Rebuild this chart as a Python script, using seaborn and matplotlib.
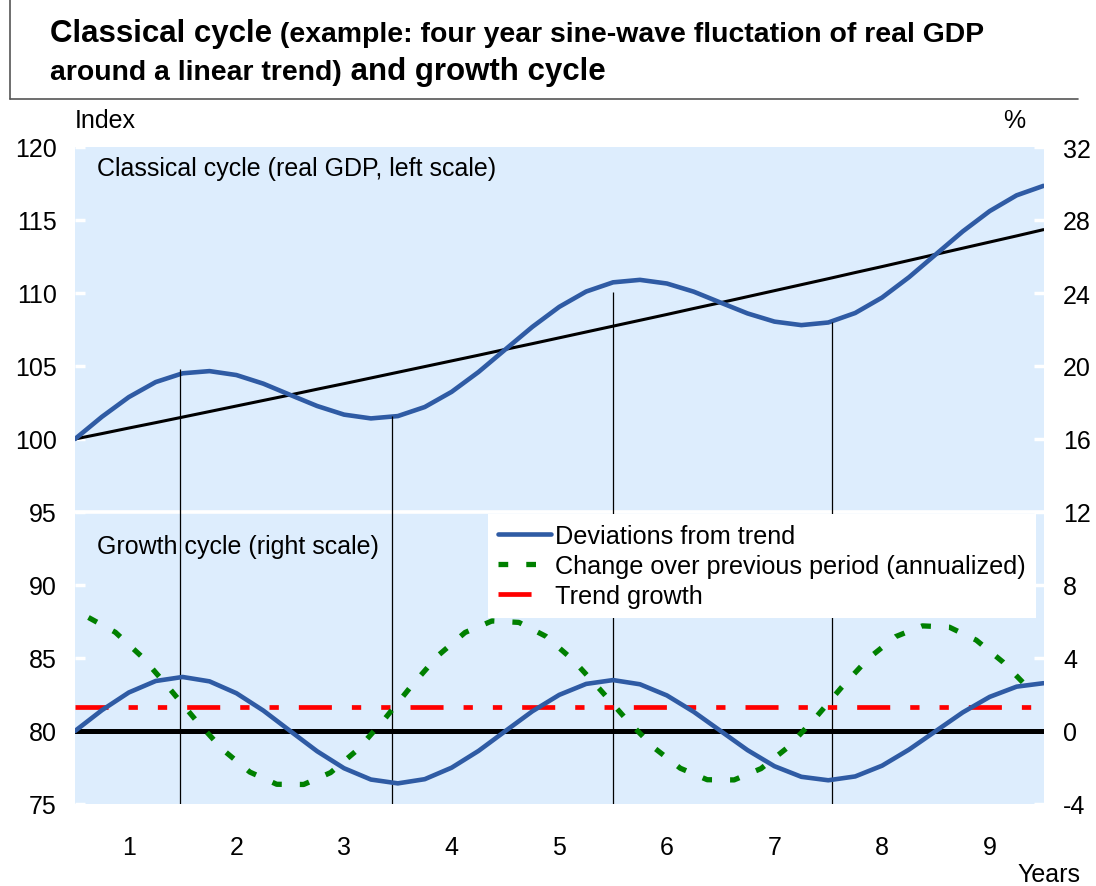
import matplotlib

matplotlib.use("Agg")

import matplotlib.pyplot as plt
import numpy as np
import seaborn as sns
from matplotlib.lines import Line2D

# quarterly observations, year 0 .. 9
quarter_years = np.arange(37) / 4
gdp = [100.00, 101.52, 102.87, 103.90, 104.50, 104.65, 104.38, 103.79, 103.02,
       102.26, 101.67, 101.41, 101.57, 102.19, 103.23, 104.59, 106.14, 107.68,
       109.05, 110.10, 110.73, 110.90, 110.65, 110.09, 109.34, 108.60, 108.04,
       107.80, 107.98, 108.63, 109.69, 111.08, 112.65, 114.22, 115.61, 116.69,
       117.34]
trend = [100.00, 100.37, 100.75, 101.12, 101.50, 101.88, 102.26, 102.64, 103.02,
         103.41, 103.79, 104.18, 104.57, 104.96, 105.35, 105.74, 106.14, 106.53,
         106.93, 107.33, 107.73, 108.13, 108.53, 108.94, 109.34, 109.75, 110.16,
         110.57, 110.98, 111.40, 111.81, 112.23, 112.65, 113.07, 113.49, 113.91,
         114.34]
deviation = [0.00, 1.14, 2.11, 2.74, 2.96, 2.72, 2.07, 1.12, 0.00, -1.11, -2.04,
             -2.66, -2.87, -2.64, -2.01, -1.09, 0.00, 1.08, 1.98, 2.58, 2.79, 2.56,
             1.95, 1.05, 0.00, -1.05, -1.93, -2.51, -2.70, -2.49, -1.90, -1.02,
             0.00, 1.02, 1.87, 2.43, 2.62]
# annualized change, plotted mid-quarter
change_years = quarter_years[1:] - 0.125
change = [6.22, 5.41, 4.05, 2.35, 0.58, -1.03, -2.25, -2.92, -2.93, -2.28, -1.03,
          0.64, 2.46, 4.14, 5.40, 6.03, 5.95, 5.19, 3.91, 2.30, 0.63, -0.89,
          -2.04, -2.67, -2.68, -2.06, -0.89, 0.68, 2.40, 3.99, 5.17, 5.76, 5.69,
          4.98, 3.77, 2.26]
trend_growth_years = [0, 9]
trend_growth = [1.3, 1.3]
# turning points of the growth cycle
turn_years = [0.98, 2.95, 5.0, 7.03]
turn_tops = [104.8, 101.6, 110.1, 108.0]
year_labels = ["1", "2", "3", "4", "5", "6", "7", "8", "9"]

W, H = 1096, 887
BLUE = "#2F5BA4"
GREEN = "#008000"
BG = "#DDEDFD"


def fx(px):
    return px / W


def fy(py):
    return 1 - py / H


sns.set_style("white")
plt.rcParams["font.family"] = ["Liberation Sans", "DejaVu Sans"]
plt.rcParams["lines.scale_dashes"] = False
plt.rcParams["axes.unicode_minus"] = False
plt.rcParams["text.color"] = "black"
plt.rcParams["lines.solid_joinstyle"] = "round"
plt.rcParams["lines.solid_capstyle"] = "round"

fig = plt.figure(figsize=(W / 100, H / 100), dpi=100)
ax = fig.add_axes([fx(75), fy(805), fx(1043.5) - fx(75), fy(148) - fy(805)])
ax.set_facecolor(BG)
ax2 = ax.twinx()

ax.axhline(95, color="white", lw=2.6, zorder=1.2)
sns.lineplot(x=quarter_years, y=trend, ax=ax, color="black", linewidth=2.2)
sns.lineplot(x=quarter_years, y=gdp, ax=ax, color=BLUE, linewidth=3.3)
ax.vlines(turn_years, 75, turn_tops, color="black", lw=0.9, zorder=3)

ax2.axhline(0, color="black", lw=3.6, zorder=1.5)
sns.lineplot(x=trend_growth_years, y=trend_growth, ax=ax2, color="red",
             linewidth=3.4, label="Trend growth")
red_line = ax2.lines[-1]
red_line.set_dashes([23.8, 14.4, 6.7, 14.4, 6.7, 14.4])
sns.lineplot(x=change_years, y=change, ax=ax2, color=GREEN, linewidth=3.8,
             label="Change over previous period (annualized)")
green_line = ax2.lines[-1]
green_line.set_dashes([7.0, 13.0])
sns.lineplot(x=quarter_years, y=deviation, ax=ax2, color=BLUE, linewidth=3.3,
             label="Deviations from trend")
dev_line = ax2.lines[-1]

ax.set_xlim(0, 9)
ax.set_ylim(75, 120)
ax2.set_ylim(-4, 32)
for a in (ax, ax2):
    for s in a.spines.values():
        s.set_visible(False)
    a.set_xlabel("")
    a.set_ylabel("")

ax.set_yticks(range(75, 121, 5))
ax.tick_params(axis="y", direction="in", length=7, width=2.5, color="white",
               labelcolor="black", labelsize=18, pad=13)
ax2.set_yticks(range(-4, 33, 4))
ax2.tick_params(axis="y", direction="in", length=7, width=2.5, color="white",
                labelcolor="black", labelsize=18, pad=14)
ax.set_xticks(range(1, 9))
ax.set_xticklabels([])
ax.set_xticks(np.arange(0.5, 9), minor=True)
ax.set_xticklabels(year_labels, minor=True)
ax.tick_params(axis="x", which="major", direction="in", length=7, width=2.5,
               color="white")
ax.tick_params(axis="x", which="minor", length=0, pad=22, labelsize=18,
               labelcolor="black")

ax.text(0.2, 118.55, "Classical cycle (real GDP, left scale)", fontsize=18,
        va="center", zorder=4)
ax.text(0.2, 92.7, "Growth cycle (right scale)", fontsize=18, va="center",
        zorder=2)

leg = ax2.legend([dev_line, green_line, red_line],
                 ["Deviations from trend",
                  "Change over previous period (annualized)", "Trend growth"],
                 loc="upper right", bbox_to_anchor=(fx(1036), fy(515)),
                 bbox_transform=fig.transFigure, frameon=True, facecolor="white",
                 edgecolor="none", fancybox=False, framealpha=1, borderaxespad=0,
                 fontsize=18.2, handlelength=2.1, handletextpad=0.15,
                 borderpad=0.4, labelspacing=0.24)
leg.set_zorder(10)

fig.text(fx(75), fy(128), "Index", fontsize=18, va="baseline")
fig.text(fx(1025), fy(128), "%", fontsize=18, va="baseline", ha="right")
fig.text(fx(1080), fy(882), "Years", fontsize=18, va="baseline", ha="right")

# title with mixed sizes
renderer = fig.canvas.get_renderer()


def write_run(pieces, x_px, base_px):
    x = fx(x_px)
    for txt, size in pieces:
        t = fig.text(x, fy(base_px), txt, fontsize=size, fontweight="bold",
                     va="baseline", color="black")
        bb = t.get_window_extent(renderer=renderer)
        x = fig.transFigure.inverted().transform((bb.x1, 0))[0]


write_run([("Classical cycle", 22.5),
           (" (example: four year sine-wave fluctation of real GDP", 20.4)],
          50, 42)
write_run([("around a linear trend)", 20.4), (" and growth cycle", 22.5)],
          50, 80)

fig.add_artist(Line2D([fx(10), fx(10)], [fy(0), fy(100)],
                      transform=fig.transFigure, color="#555555", lw=1.2))
fig.add_artist(Line2D([fx(10), fx(1078)], [fy(100), fy(100)],
                      transform=fig.transFigure, color="#555555", lw=1.2))

fig.savefig("out.png", dpi=100)
plt.close(fig)
